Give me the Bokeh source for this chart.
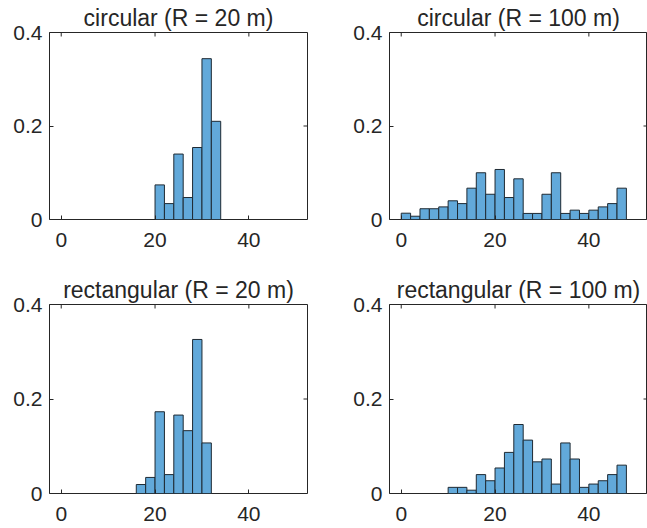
import math
from bokeh.plotting import figure
from bokeh.models import FixedTicker, LinearAxis, Range1d, Title
from bokeh.layouts import column, row
from bokeh.embed import file_html
from bokeh.resources import INLINE

# ---- data ----
bin_width = 2

circ20_title = "circular (R = 20 m)"
circ20_edges = [20, 22, 24, 26, 28, 30, 32]
circ20_vals = [0.074, 0.034, 0.140, 0.047, 0.154, 0.344, 0.210]

circ100_title = "circular (R = 100 m)"
circ100_edges = [0, 2, 4, 6, 8, 10, 12, 14, 16, 18, 20, 22, 24, 26, 28, 30,
                 32, 34, 36, 38, 40, 42, 44, 46]
circ100_vals = [0.0135, 0.007, 0.023, 0.023, 0.027, 0.040, 0.034, 0.067,
                0.100, 0.054, 0.107, 0.047, 0.087, 0.013, 0.013, 0.054,
                0.100, 0.013, 0.020, 0.013, 0.020, 0.027, 0.034, 0.067]

rect20_title = "rectangular (R = 20 m)"
rect20_edges = [16, 18, 20, 22, 24, 26, 28, 30]
rect20_vals = [0.019, 0.034, 0.173, 0.040, 0.166, 0.133, 0.326, 0.107]

rect100_title = "rectangular (R = 100 m)"
rect100_edges = [10, 12, 14, 16, 18, 20, 22, 24, 26, 28, 30, 32, 34, 36, 38,
                 40, 42, 44, 46]
rect100_vals = [0.013, 0.013, 0.007, 0.040, 0.027, 0.054, 0.087, 0.146,
                0.113, 0.067, 0.073, 0.020, 0.107, 0.073, 0.013, 0.020,
                0.027, 0.040, 0.060]

x_lim = (-2.5, 52.5)
y_lim = (0, 0.4)
x_ticks = [0, 20, 40]
y_ticks = [0, 0.2, 0.4]
y_tick_labels = {0: "0", 0.2: "0.2", 0.4: "0.4"}

FONT = "Liberation Sans"
TXT = "#262626"
BAR = "#62a9da"


def panel(title, edges, vals, width, height, bl, br, bt, bb):
    p = figure(width=width, height=height, output_backend="svg",
               toolbar_location=None, tools="",
               x_range=Range1d(*x_lim), y_range=Range1d(*y_lim),
               min_border_left=bl, min_border_right=br,
               min_border_top=bt, min_border_bottom=bb,
               x_axis_location=None, y_axis_location=None)
    p.grid.visible = False
    p.outline_line_color = TXT
    p.outline_line_width = 1
    p.outline_line_alpha = 1
    p.background_fill_color = "white"
    p.border_fill_color = "white"

    p.title = Title(text=title, align="center", text_font=FONT,
                    text_font_size="23px", text_font_style="normal",
                    text_color=TXT, standoff=3, offset=0)

    left = edges
    right = [e + bin_width for e in edges]
    p.quad(left=left, right=right, bottom=0, top=vals,
           fill_color=BAR, line_color="#1f2a33", line_width=1)

    def style(ax):
        ax.axis_line_color = None
        ax.major_tick_in = 4
        ax.major_tick_out = 0
        ax.minor_tick_line_color = None
        ax.major_tick_line_color = TXT
        ax.major_label_text_font = FONT
        ax.major_label_text_font_size = "21px"
        ax.major_label_text_color = TXT

    xb = LinearAxis(ticker=FixedTicker(ticks=x_ticks))
    style(xb)
    xb.major_label_standoff = 13
    p.add_layout(xb, "below")

    yl = LinearAxis(ticker=FixedTicker(ticks=y_ticks))
    style(yl)
    yl.major_label_overrides = y_tick_labels
    yl.major_label_standoff = 7
    p.add_layout(yl, "left")

    # inward ticks on the top and right sides of the box (MATLAB "box on")
    p.ray(x=x_ticks, y=y_lim[1], length=4, length_units="screen",
          angle=-math.pi / 2, line_color=TXT, line_width=1)
    p.ray(x=x_lim[1], y=y_ticks, length=4, length_units="screen",
          angle=math.pi, line_color=TXT, line_width=1)
    return p


p1 = panel(circ20_title, circ20_edges, circ20_vals, 323, 260, 49, 16, 32, 41)
p2 = panel(circ100_title, circ100_edges, circ100_vals, 324, 260, 66, 0, 32, 41)
p3 = panel(rect20_title, rect20_edges, rect20_vals, 323, 268, 49, 16, 44, 35)
p4 = panel(rect100_title, rect100_edges, rect100_vals, 324, 268, 66, 0, 44, 35)

layout = column(row(p1, p2, spacing=0), row(p3, p4, spacing=0), spacing=0)

open("out.html", "w").write(file_html(layout, INLINE))
